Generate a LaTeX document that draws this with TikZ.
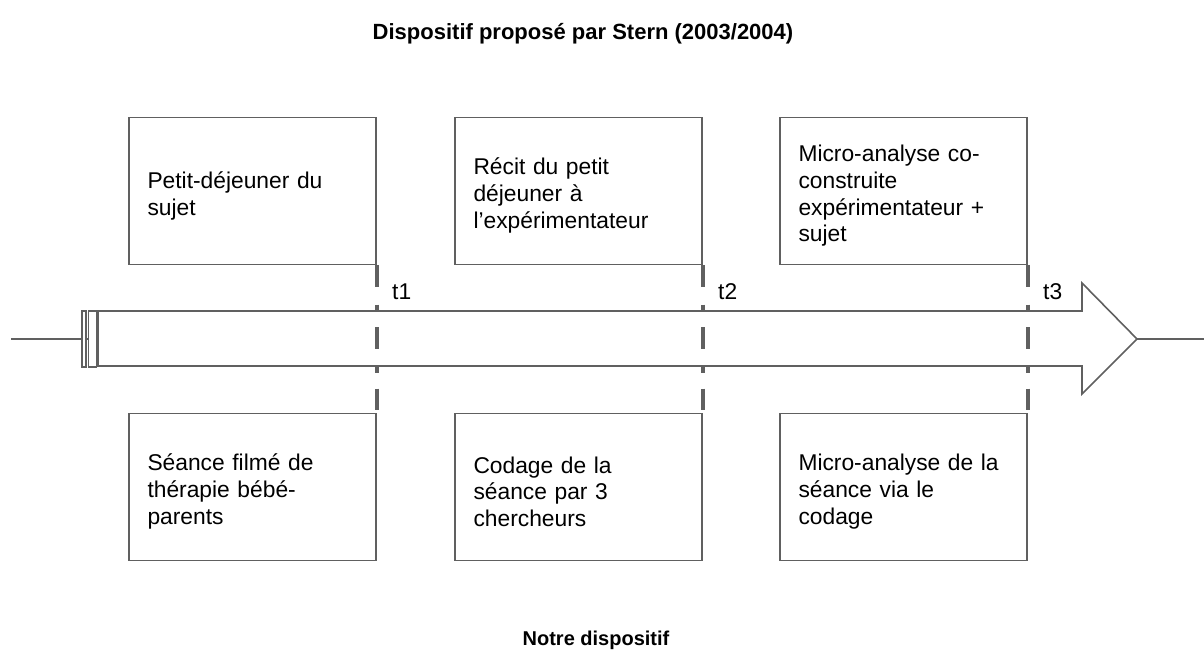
\documentclass[tikz,border=0pt]{standalone}
\usepackage{fontspec}
\setmainfont{Liberation Sans}
\definecolor{lineg}{RGB}{96,96,96}
\begin{document}
\begin{tikzpicture}[x=1pt,y=-1pt,
  box/.style={draw=lineg, line width=1.6pt, fill=white, minimum width=247pt, minimum height=147pt,
    text width=210pt, inner xsep=18.5pt, inner ysep=0pt, align=left,
    font=\fontsize{22.8}{26.8}\selectfont, anchor=center,
    execute at begin node={\rule{0pt}{26pt}}},
  tickline/.style={draw=lineg, line width=4.5pt, dash pattern=on 21.7pt off 17.5pt on 6.5pt off 16pt},
  tlab/.style={font=\fontsize{22.8}{26}\selectfont, anchor=base west, inner sep=0pt},
  titlelab/.style={font=\bfseries\fontsize{22}{26}\selectfont, anchor=base, inner sep=0pt},
  outline/.style={draw=lineg, line width=1.6pt}]
\useasboundingbox (0,0) rectangle (1204,662);

% titles
\node[titlelab] (title) at (583,39) {Dispositif proposé par Stern (2003/2004)};
\node[titlelab, font=\bfseries\fontsize{20}{24}\selectfont] (bottomtitle) at (596,645) {Notre dispositif};

% timeline arrow
\coordinate (tailend) at (11,339);
\coordinate (bodystart) at (98,339);
\coordinate (tip) at (1137,339);
\coordinate (rightend) at (1204,339);
\draw[outline] (tailend) -- (bodystart);
\draw[outline, fill=white] (82,311) rectangle (86,367);
\draw[outline, fill=white] (88.5,311) rectangle (96.5,367);
\draw[outline, fill=white] (98,311) -- (1082,311) -- (1082,283) -- (tip) -- (1082,394) -- (1082,366) -- (98,366) -- cycle;
\draw[outline] (tip) -- (rightend);

% boxes
\node[box] (b1) at (252.5,191) {Petit-déjeuner du\\sujet};
\node[box] (b2) at (578.5,191) {Récit du petit\\déjeuner à\\l’expérimentateur};
\node[box] (b3) at (903.5,191) {Micro-analyse co-\\construite\\expérimentateur +\\sujet};
\node[box] (b4) at (252.5,487) {Séance filmé de\\thérapie bébé-\\parents};
\node[box] (b5) at (578.5,487) {Codage de la\\séance par 3\\chercheurs};
\node[box] (b6) at (903.5,487) {Micro-analyse de la\\séance via le\\codage};

% time markers
\draw[tickline] (b1.south east) -- (b4.north east);
\draw[tickline] (b2.south east) -- (b5.north east);
\draw[tickline] (b3.south east) -- (b6.north east);

\node[tlab] (t1) at (392,299) {t1};
\node[tlab] (t2) at (718,299) {t2};
\node[tlab] (t3) at (1043,299) {t3};
\end{tikzpicture}
\end{document}
